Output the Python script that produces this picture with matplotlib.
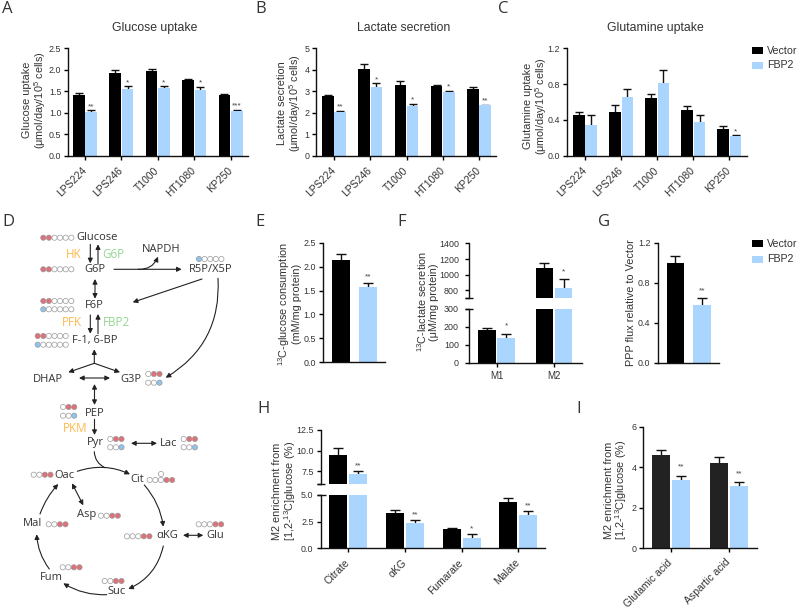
import matplotlib
matplotlib.use('Agg')
from matplotlib import pyplot as plt
from matplotlib.patches import Circle, Rectangle

plt.rcParams['font.family'] = ['Liberation Sans', 'DejaVu Sans']
plt.rcParams['mathtext.default'] = 'regular'

# Bar data (mean, error) for every panel.
cell_lines = ['LPS224', 'LPS246', 'T1000', 'HT1080', 'KP250']

glucose_vec = [1.41, 1.91, 1.96, 1.77, 1.42]
glucose_vec_err = [0.05, 0.07, 0.06, 0.02, 0.02]
glucose_fbp = [1.03, 1.54, 1.57, 1.53, 1.05]
glucose_fbp_err = [0.03, 0.08, 0.04, 0.07, 0.02]
glucose_stars = ['**', '*', '*', '*', '***']

lactate_vec = [2.78, 4.05, 3.30, 3.25, 3.12]
lactate_vec_err = [0.04, 0.20, 0.15, 0.04, 0.06]
lactate_fbp = [2.03, 3.20, 2.33, 2.95, 2.35]
lactate_fbp_err = [0.06, 0.17, 0.10, 0.07, 0.03]
lactate_stars = ['**', '*', '*', '*', '**']

glutamine_vec = [0.46, 0.49, 0.64, 0.51, 0.30]
glutamine_vec_err = [0.03, 0.08, 0.05, 0.04, 0.03]
glutamine_fbp = [0.34, 0.66, 0.81, 0.38, 0.22]
glutamine_fbp_err = [0.11, 0.08, 0.15, 0.07, 0.01]
glutamine_stars = ['', '', '', '', '*']

consumption_vec, consumption_vec_err = [2.14], [0.12]
consumption_fbp, consumption_fbp_err = [1.58], [0.07]

isotopomers = ['M1', 'M2']
secretion_vec = [180, 1090]
secretion_vec_err = [12, 65]
secretion_fbp = [140, 830]
secretion_fbp_err = [22, 110]

ppp_vec, ppp_vec_err = [1.0], [0.07]
ppp_fbp, ppp_fbp_err = [0.58], [0.07]

tca_names = ['Citrate', 'αKG', 'Fumarate', 'Malate']
tca_vec = [9.45, 3.3, 1.8, 4.35]
tca_vec_err = [0.85, 0.3, 0.1, 0.35]
tca_fbp = [7.2, 2.35, 1.0, 3.15]
tca_fbp_err = [0.3, 0.25, 0.3, 0.3]
tca_stars = ['**', '**', '*', '**']

amino_names = ['Glutamic acid', 'Aspartic acid']
amino_vec = [4.62, 4.22]
amino_vec_err = [0.25, 0.3]
amino_fbp = [3.38, 3.05]
amino_fbp_err = [0.2, 0.2]
amino_stars = ['**', '**']

BLUE = '#a9d5ff'
DARK = '#333333'
W, H = 800, 611

fig = plt.figure(figsize=(W / 100, H / 100), dpi=100)

# Overlay in pixel units, used for the pathway, labels and legends.
ov = fig.add_axes([0, 0, 1, 1], zorder=5)
ov.set_xlim(0, W)
ov.set_ylim(H, 0)
ov.axis('off')
ov.patch.set_alpha(0)


def make_axes(left, right, top, bottom, ylim, yticks, yfmt, c0, step, hide_x=False, ypad=1.5):
    ax = fig.add_axes([left / W, 1 - bottom / H, (right - left) / W, (bottom - top) / H])
    ax.set_xlim((left - c0) / step, (right - c0) / step)
    ax.set_ylim(*ylim)
    ax.patch.set_alpha(0)
    for side in ['top', 'right']:
        ax.spines[side].set_visible(False)
    for side in ['left', 'bottom']:
        ax.spines[side].set_linewidth(1.0)
        ax.spines[side].set_color('#111111')
    ax.set_yticks(yticks)
    ax.set_yticklabels([yfmt % t if t not in ylim or t != ylim[0] or ylim[0] == 0 else '' for t in yticks])
    ax.tick_params(axis='y', length=3.2, width=1.0, labelsize=6.4, pad=ypad, labelcolor=DARK)
    ax.tick_params(axis='x', length=3.2, width=1.0, labelsize=7.5, pad=6, labelcolor=DARK)
    if hide_x:
        ax.spines['bottom'].set_visible(False)
        ax.set_xticks([])
    return ax


def draw_bars(ax, vec, vec_err, fbp, fbp_err, stars, step, width, offset, capsize, star_gap, black='black'):
    for i in range(len(vec)):
        for x, val, err, col, s in [(i - offset / step, vec[i], vec_err[i], black, ''),
                                    (i + offset / step, fbp[i], fbp_err[i], BLUE, stars[i])]:
            ax.bar(x, val, width / step, color=col, zorder=2)
            _, caps, _ = ax.errorbar(x, val, yerr=[[0], [err]], color='#111111', elinewidth=1.0,
                                     capsize=capsize, capthick=1.0, zorder=1)
            caps[0].set_visible(False)
            if s:
                ax.annotate(s, xy=(x, val + err), xytext=(0, (star_gap - 5) * 0.72),
                            textcoords='offset points', ha='center', va='baseline',
                            fontsize=6, color='#444444')


def set_groups(ax, names, rotate=True):
    ax.set_xticks(range(len(names)))
    if rotate:
        ax.set_xticklabels(names, rotation=45, ha='right', va='center', rotation_mode='anchor')
    else:
        ax.set_xticklabels(names)


def ylabel(x, y, text):
    ov.text(x, y, text, rotation=90, ha='center', va='center', multialignment='center',
            fontsize=7.8, color=DARK, linespacing=0.95)


def legend(y1, y2):
    for y, col, name in [(y1, 'black', 'Vector'), (y2, BLUE, 'FBP2')]:
        ov.add_patch(Rectangle((751.7, y - 3.5), 11.6, 7, color=col, lw=0))
        ov.text(767, y, name, va='center', fontsize=7.7, color=DARK)


# A
ax = make_axes(68, 248, 48, 156, (0, 2.5), [0, 0.5, 1, 1.5, 2, 2.5], '%.1f', 85, 36.4)
draw_bars(ax, glucose_vec, glucose_vec_err, glucose_fbp, glucose_fbp_err, glucose_stars, 36.4, 11.5, 6.2, 2.6, 7)
set_groups(ax, cell_lines)
ylabel(35, 100, 'Glucose uptake\n(μmol/day/10$^5$ cells)')

# B
ax = make_axes(316.3, 496, 48, 156, (0, 5), [0, 1, 2, 3, 4, 5], '%d', 334, 36.25, ypad=1.5)
draw_bars(ax, lactate_vec, lactate_vec_err, lactate_fbp, lactate_fbp_err, lactate_stars, 36.25, 11.5, 6.2, 2.6, 7)
set_groups(ax, cell_lines)
ylabel(290, 103, 'Lactate secretion\n(μmol/day/10$^5$ cells)')

# C
ax = make_axes(566.7, 747, 48, 156, (0, 1.2), [0, 0.4, 0.8, 1.2], '%.1f', 585, 36.1)
draw_bars(ax, glutamine_vec, glutamine_vec_err, glutamine_fbp, glutamine_fbp_err, glutamine_stars, 36.1, 11.5, 6.2, 2.6, 7)
set_groups(ax, cell_lines)
ylabel(536, 106, 'Glutamine uptake\n(μmol/day/10$^5$ cells)')
legend(50.5, 65.5)

# E
ax = make_axes(322.7, 385, 243, 362, (0, 2.5), [0, 0.5, 1, 1.5, 2, 2.5], '%.1f', 354.5, 60)
draw_bars(ax, consumption_vec, consumption_vec_err, consumption_fbp, consumption_fbp_err, ['**'], 60, 17.5, 13.4, 3.6, 10)
ax.set_xticks([])
ylabel(289, 304, '$^{13}$C-glucose consumption\n(mM/mg protein)')

# F, broken axis
for ylim, top, bottom, ticks in [((0, 300), 308.7, 362.7, [0, 100, 200, 300]),
                                 ((700, 1400), 243.3, 298.3, [700, 800, 1000, 1200, 1400])]:
    ax = make_axes(469, 581.7, top, bottom, ylim, ticks, '%d', 496.5, 57.5, hide_x=ylim[0] > 0, ypad=4)
    draw_bars(ax, secretion_vec, secretion_vec_err, secretion_fbp, secretion_fbp_err, ['*', '*'], 57.5, 17.7, 9.6, 3.6, 11)
    if ylim[0] == 0:
        set_groups(ax, isotopomers, rotate=False)
        ax.tick_params(axis='x', labelsize=7, pad=3)
ylabel(427, 302, '$^{13}$C-lactate secretion\n(μM/mg protein)')

# G
ax = make_axes(657.7, 719, 243, 362.7, (0, 1.2), [0, 0.4, 0.8, 1.2], '%.1f', 688.7, 60, ypad=2)
draw_bars(ax, ppp_vec, ppp_vec_err, ppp_fbp, ppp_fbp_err, ['**'], 60, 17.5, 13.3, 3.6, 10)
ax.set_xticks([])
ylabel(630.7, 303, 'PPP flux relative to Vector')
legend(243.7, 259.5)

# H, broken axis
for ylim, top, bottom, ticks in [((0, 5), 494.7, 548.3, [0, 2.5, 5]),
                                 ((6, 12.5), 429.7, 484, [6, 7.5, 10, 12.5])]:
    ax = make_axes(321.3, 545, top, bottom, ylim, ticks, '%.1f', 348.3, 56.7, hide_x=ylim[0] > 0, ypad=2.4)
    draw_bars(ax, tca_vec, tca_vec_err, tca_fbp, tca_fbp_err, tca_stars, 56.7, 18, 10, 3.6, 9)
    if ylim[0] == 0:
        set_groups(ax, tca_names)
ylabel(285, 491, 'M2 enrichment from\n[1,2-$^{13}$C]glucose (%)')

# ticks on the axis breaks stick out on both sides of the spine
for y, x0, x1 in [(298.3, 465, 472.5), (308.7, 465, 472.5), (484, 316.7, 325), (494.7, 316.7, 325.5)]:
    ov.plot([x0, x1], [y, y], color='#111111', lw=1.0, solid_capstyle='butt')

# I
ax = make_axes(643, 757.3, 427, 548, (0, 6), [0, 2, 4, 6], '%d', 670.8, 58.2)
draw_bars(ax, amino_vec, amino_vec_err, amino_fbp, amino_fbp_err, amino_stars, 58.2, 18, 10, 3.6, 12, black='#222222')
set_groups(ax, amino_names)
ylabel(616.3, 490, 'M2 enrichment from\n[1,2-$^{13}$C]glucose (%)')

# Panel titles and letters
for x, txt in [(155, 'Glucose uptake'), (404, 'Lactate secretion'), (655, 'Glutamine uptake')]:
    ov.text(x, 28, txt, ha='center', va='center', fontsize=8.8, color=DARK)
letters = ['A', 'B', 'C', 'D', 'E', 'F', 'G', 'H', 'I']
letter_x = [2, 255, 498, 2, 255, 397, 598, 257, 576]
letter_y = [9, 9, 9, 222, 222, 222, 222, 409, 409]
for s, x, y in zip(letters, letter_x, letter_y):
    ov.text(x, y, s, ha='left', va='center', fontsize=12, color=DARK, family='Open Sans')

# Pathway: metabolite names
node_names = ['Glucose', 'G6P', 'F6P', 'F-1, 6-BP', 'DHAP', 'G3P', 'NAPDH', 'R5P/X5P', 'PEP', 'Pyr', 'Lac',
              'Oac', 'Cit', 'Asp', 'Mal', 'αKG', 'Glu', 'Fum', 'Suc']
node_x = [97, 95, 94, 95, 48, 131, 161, 211, 95, 95, 169, 64, 137, 87, 33, 167, 215, 51, 117]
node_y = [237, 270, 306, 341, 379, 379, 250, 270, 413, 443, 443, 476, 479, 515, 524, 536, 536, 577, 592]
for s, x, y in zip(node_names, node_x, node_y):
    ov.text(x, y, s, ha='center', va='center', fontsize=8, color=DARK, family='Open Sans')

# Pathway: enzymes
enzyme_names = ['HK', 'G6P', 'PFK', 'FBP2', 'PKM']
enzyme_x = [74, 113, 72, 116, 75]
enzyme_y = [255, 255, 323, 323, 428]
enzyme_colors = ['#fdb94d', '#93d693', '#fdb94d', '#93d693', '#fdb94d']
for s, x, y, c in zip(enzyme_names, enzyme_x, enzyme_y, enzyme_colors):
    ov.text(x, y, s, ha='center', va='center', fontsize=8.4, color=c, family='Open Sans')

# Pathway: carbon labelling, one string per row (w=unlabelled, p=pink, b=blue)
carbon_rows = [(43.3, 237.7, 'ppwwww'), (43.3, 269.3, 'ppwwww'), (43.3, 301, 'ppwwww'), (43.3, 309.3, 'bwwwww'),
               (37.7, 336, 'ppwwww'), (37.7, 344.7, 'bwwwww'), (199, 259, 'bwwww'), (148.3, 374, 'wpp'),
               (148.3, 382.7, 'wwb'), (63, 407, 'wpp'), (63, 415.7, 'wwb'), (110.3, 439, 'wpp'),
               (110.3, 447.3, 'wwb'), (183.7, 439, 'wpp'), (183.7, 447.3, 'wwb'), (33.7, 474.7, 'wwpp'),
               (149.7, 480, 'wwwpp'), (161, 474, 'w'), (101, 515.7, 'wwpp'), (48.7, 524.3, 'wwpp'),
               (127, 536.3, 'wwwpp'), (198.7, 524.3, 'wwwpp'), (62.7, 567.3, 'wwpp'), (104.7, 581, 'wwpp')]
fills = {'w': 'white', 'p': '#e07078', 'b': '#8fc4ee'}
for x0, y, row in carbon_rows:
    for i, c in enumerate(row):
        ov.add_patch(Circle((x0 + i * 5.6, y), 2.6, facecolor=fills[c], edgecolor='#999999', lw=0.5))

# Pathway: arrows (start, end, bend, both ways)
arrows = [((90.3, 244.3), (90.3, 263.3), 0, False), ((98, 264.3), (98, 244.3), 0, False),
          ((114, 269.3), (181.7, 269.3), 0, False), ((138, 269.3), (158, 256.7), 0.35, False),
          ((202, 279), (132.7, 302.3), 0, False), ((218, 278.3), (165.7, 377.7), -0.3, False),
          ((95, 279), (95, 298.7), 0, True), ((90.3, 315), (90.3, 333.7), 0, False),
          ((98, 333.7), (98, 314), 0, False), ((94.3, 363.3), (94.3, 349.3), 0, False),
          ((94.3, 363.3), (68.3, 372.3), 0, False), ((94.3, 363.3), (120, 372.3), 0, False),
          ((79, 378), (110, 378), 0, True), ((94.5, 384), (94.5, 405), 0, True),
          ((94.5, 419.3), (94.5, 435), 0, False), ((131, 443.3), (157, 443.3), 0, True),
          ((77.3, 471.3), (130, 474.3), -0.2, False), ((144.3, 485), (163.3, 526.7), -0.15, False),
          ((163.3, 546), (128.3, 589), -0.25, False), ((106.7, 594.7), (63.3, 583.3), -0.15, False),
          ((49.3, 569), (36.7, 534.3), -0.15, False), ((40, 514), (58.3, 484), -0.1, False),
          ((72, 483.3), (83.3, 505.3), 0, True), ((183, 535.3), (203.3, 535.3), 0, True)]
for start, end, bend, both in arrows:
    ov.annotate('', xy=end, xytext=start,
                arrowprops=dict(arrowstyle='<|-|>' if both else '-|>', mutation_scale=7, lw=0.8,
                                color='#222222', shrinkA=0, shrinkB=0,
                                connectionstyle='arc3,rad=%g' % bend))
# pyruvate joining the citrate arc
ov.annotate('', xy=(105, 467.7), xytext=(94.3, 451.7),
            arrowprops=dict(arrowstyle='-', lw=0.8, color='#222222', shrinkA=0, shrinkB=0,
                            connectionstyle='arc3,rad=0.3'))

plt.savefig('out.png', dpi=100)
